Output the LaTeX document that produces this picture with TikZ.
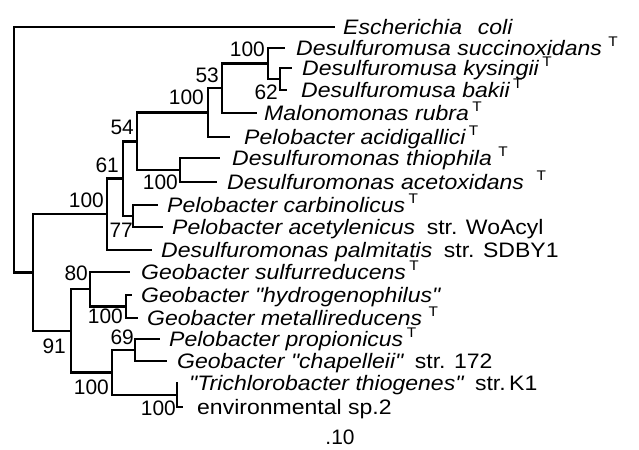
\documentclass[tikz,border=0pt]{standalone}
\usepackage{fontspec}
\newfontfamily\labf[FakeStretch=1.1]{Liberation Sans}
\newfontfamily\numf{Liberation Sans}
\newcommand\supT{\raisebox{0.42em}{\fontsize{14}{14}\selectfont\upshape T}}
\newcommand\strn[1]{{\upshape #1}}
\tikzset{
  br/.style={line width=2.6bp},
  leaf/.style={anchor=base west, inner sep=0pt, font=\labf\fontsize{21}{21}\selectfont\itshape},
  boot/.style={anchor=east, inner sep=0pt, font=\numf\fontsize{21}{21}\selectfont},
}
\begin{document}
\begin{tikzpicture}[x=1bp,y=-1bp]
\useasboundingbox (0,0) rectangle (639,450);
% internal nodes
\coordinate (root) at (14,149.7);
\coordinate (in) at (33,272.4);
\coordinate (nD) at (107,214.2);
\coordinate (n61) at (123,178.6);
\coordinate (n54) at (137,141.3);
\coordinate (n100a) at (208,112.6);
\coordinate (n53) at (222,88.2);
\coordinate (n100s) at (268,63.5);
\coordinate (n62) at (280,79);
\coordinate (nthio) at (180,170);
\coordinate (n77) at (133,216);
\coordinate (nG) at (71,330.8);
\coordinate (n80) at (90,289.2);
\coordinate (n100c) at (126,306.5);
\coordinate (n100b) at (112,372.5);
\coordinate (n69) at (135,350);
\coordinate (n100t) at (177,395);
% branch ends
\coordinate (ecoli) at (335,27);
\coordinate (succ) at (285,48);
\coordinate (kys) at (292,68);
\coordinate (bak) at (287,90);
\coordinate (malon) at (257,113);
\coordinate (acid) at (230,137);
\coordinate (thio) at (220,158);
\coordinate (acet) at (217,182);
\coordinate (carb) at (158,205);
\coordinate (acyl) at (163,227);
\coordinate (palm) at (152,250);
\coordinate (sulf) at (130,272);
\coordinate (hydro) at (132,295);
\coordinate (metal) at (138,318);
\coordinate (prop) at (160,339);
\coordinate (chap) at (167,361);
\coordinate (trich) at (178,383);
\coordinate (env) at (183,407);
% branches
\draw[br] (root) |- (ecoli);
\draw[br] (root) |- (in);
\draw[br] (in) |- (nD);
\draw[br] (in) |- (nG);
\draw[br] (nD) |- (n61);
\draw[br] (nD) |- (palm);
\draw[br] (n61) |- (n54);
\draw[br] (n61) |- (n77);
\draw[br] (n54) |- (n100a);
\draw[br] (n54) |- (nthio);
\draw[br] (n100a) |- (n53);
\draw[br] (n100a) |- (acid);
\draw[br] (n53) |- (n100s);
\draw[br] (n53) |- (malon);
\draw[br] (n100s) |- (succ);
\draw[br] (n100s) |- (n62);
\draw[br] (n62) |- (kys);
\draw[br] (n62) |- (bak);
\draw[br] (nthio) |- (thio);
\draw[br] (nthio) |- (acet);
\draw[br] (n77) |- (carb);
\draw[br] (n77) |- (acyl);
\draw[br] (nG) |- (n80);
\draw[br] (nG) |- (n100b);
\draw[br] (n80) |- (sulf);
\draw[br] (n80) |- (n100c);
\draw[br] (n100c) |- (hydro);
\draw[br] (n100c) |- (metal);
\draw[br] (n100b) |- (n69);
\draw[br] (n100b) |- (n100t);
\draw[br] (n69) |- (prop);
\draw[br] (n69) |- (chap);
\draw[br] (n100t) |- (trich);
\draw[br] (n100t) |- (env);
% leaf labels
\node[leaf] (Lecoli) at (343,34.5) {Escherichia\hspace{0.45em} coli};
\node[leaf] (Lsucc) at (296,55.5) {Desulfuromusa succinoxidans \supT};
\node[leaf] (Lkys) at (302,75.5) {Desulfuromusa kysingii\,\supT};
\node[leaf] (Lbak) at (301,97.5) {Desulfuromusa bakii\,\supT};
\node[leaf] (Lmalon) at (264,120.5) {Malonomonas rubra\,\supT};
\node[leaf] (Lacid) at (244,144.5) {Pelobacter acidigallici\,\supT};
\node[leaf] (Lthio) at (232,165.5) {Desulfuromonas thiophila \supT};
\node[leaf] (Lacet) at (227,189.5) {Desulfuromonas acetoxidans \hspace{0.3em}\supT};
\node[leaf] (Lcarb) at (167,212.5) {Pelobacter carbinolicus\,\supT};
\node[leaf] (Lacyl) at (172,234.5) {Pelobacter acetylenicus\hspace{0.55em}\strn{str. WoAcyl}};
\node[leaf] (Lpalm) at (161,257.5) {Desulfuromonas palmitatis\hspace{0.55em}\strn{str. SDBY1}};
\node[leaf] (Lsulf) at (141,279.5) {Geobacter sulfurreducens\,\supT};
\node[leaf] (Lhydro) at (141,302.5) {Geobacter "hydrogenophilus"};
\node[leaf] (Lmetal) at (147,325.5) {Geobacter metallireducens \supT};
\node[leaf] (Lprop) at (169,346.5) {Pelobacter propionicus\,\supT};
\node[leaf] (Lchap) at (177,368.5) {Geobacter "chapelleii"\hspace{0.55em}\strn{str. 172}};
\node[leaf] (Ltrich) at (189,390.5) {"Trichlorobacter thiogenes"\hspace{0.55em}\strn{str.\,K1}};
\node[leaf] (Lenv) at (197,414.5) {\upshape environmental sp.2};
% bootstrap values
\node[boot] (b1) at (265,49) {100};
\node[boot] (b2) at (219,75) {53};
\node[boot] (b3) at (204,97) {100};
\node[boot] (b4) at (278,92) {62};
\node[boot] (b5) at (134,127) {54};
\node[boot] (b6) at (119,165) {61};
\node[boot] (b7) at (104,200) {100};
\node[boot] (b8) at (133,230) {77};
\node[boot] (b9) at (178,182) {100};
\node[boot] (b10) at (88,273) {80};
\node[boot] (b11) at (123,316) {100};
\node[boot] (b12) at (66,346) {91};
\node[boot] (b13) at (134,337) {69};
\node[boot] (b14) at (109,387) {100};
\node[boot] (b15) at (176,408) {100};
% scale
\node[boot, anchor=center] (scale) at (340,437) {.10};
\end{tikzpicture}
\end{document}
